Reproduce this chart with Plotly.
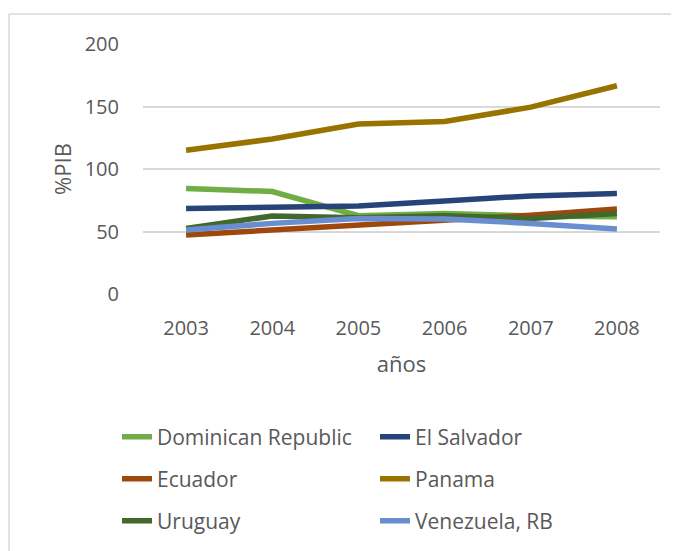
import plotly.graph_objects as go

years = ["2003", "2004", "2005", "2006", "2007", "2008"]

dominican_republic = [84.5, 82.0, 62.7, 64.5, 62.4, 61.9]
el_salvador = [68.5, 69.9, 70.4, 74.5, 78.5, 80.5]
ecuador = [47.2, 51.0, 55.8, 59.5, 63.0, 68.0]
panama = [115.0, 124.0, 136.0, 138.0, 149.5, 166.6]
uruguay = [52.5, 62.4, 61.0, 62.7, 60.5, 64.5]
venezuela = [51.2, 56.5, 60.5, 60.0, 56.5, 52.0]

series_names = ["Dominican Republic", "El Salvador", "Ecuador", "Panama", "Uruguay", "Venezuela, RB"]
series_values = [dominican_republic, el_salvador, ecuador, panama, uruguay, venezuela]
series_colors = ["#70AD47", "#264478", "#9E480E", "#997300", "#43682B", "#698ED0"]
legend_ids = ["legend", "legend", "legend2", "legend2", "legend3", "legend3"]

y_ticks = [0, 50, 100, 150, 200]

FONT = "Open Sans"
TXT = "#595959"

fig = go.Figure()
for name, vals, col, lg in zip(series_names, series_values, series_colors, legend_ids):
    fig.add_trace(go.Scatter(
        x=years, y=vals, mode="lines", name=name,
        line=dict(color=col, width=5.5),
        legend=lg,
    ))

# page offset (body margin) compensation
OFF = 8
W, H = 679, 551
# plot area in reference pixel space: x 143..660, y 44..294
L = 143 - OFF
T = 44 - OFF
R = W - (660 - OFF)
B = H - (294 - OFF)
pw, ph = W - L - R, H - T - B

def px_x(p):
    return (p - OFF - L) / pw

def px_y(p):
    return (H - B - (p - OFF)) / ph

legend_common = dict(
    orientation="h", entrywidth=213, entrywidthmode="pixels",
    font=dict(family=FONT, size=21, color=TXT),
    xanchor="left", yanchor="middle", bgcolor="rgba(0,0,0,0)",
    itemwidth=30, traceorder="normal",
)

lx = px_x(117)
fig.update_layout(
    width=W, height=H,
    margin=dict(l=L, r=R, t=T, b=B),
    paper_bgcolor="white", plot_bgcolor="white",
    font=dict(family=FONT, size=20, color=TXT),
    showlegend=True,
    legend=dict(x=lx, y=px_y(437), **legend_common),
    legend2=dict(x=lx, y=px_y(479), **legend_common),
    legend3=dict(x=lx, y=px_y(521), **legend_common),
    xaxis=dict(
        type="category", range=[-0.5, 5.5], showgrid=False, zeroline=False, showline=False,
        ticks="", ticklabelstandoff=20, tickfont=dict(family=FONT, size=20, color=TXT),
        title=dict(text="años", font=dict(family=FONT, size=22, color=TXT), standoff=16),
    ),
    yaxis=dict(
        range=[0, 200], tickvals=y_ticks, showgrid=True, gridcolor="#D9D9D9", gridwidth=1.5,
        zeroline=False, showline=False, ticks="", ticklabelstandoff=23,
        tickfont=dict(family=FONT, size=20, color=TXT),
        title=dict(text="%PIB", font=dict(family=FONT, size=22, color=TXT), standoff=6),
    ),
    shapes=[
        dict(type="line", xref="paper", yref="paper",
             x0=px_x(9), x1=px_x(700), y0=px_y(14), y1=px_y(14),
             line=dict(color="#D9D9D9", width=1.5)),
        dict(type="line", xref="paper", yref="paper",
             x0=px_x(9), x1=px_x(9), y0=px_y(14), y1=px_y(570),
             line=dict(color="#D9D9D9", width=1.5)),
    ],
)

fig.write_html("out.html")
